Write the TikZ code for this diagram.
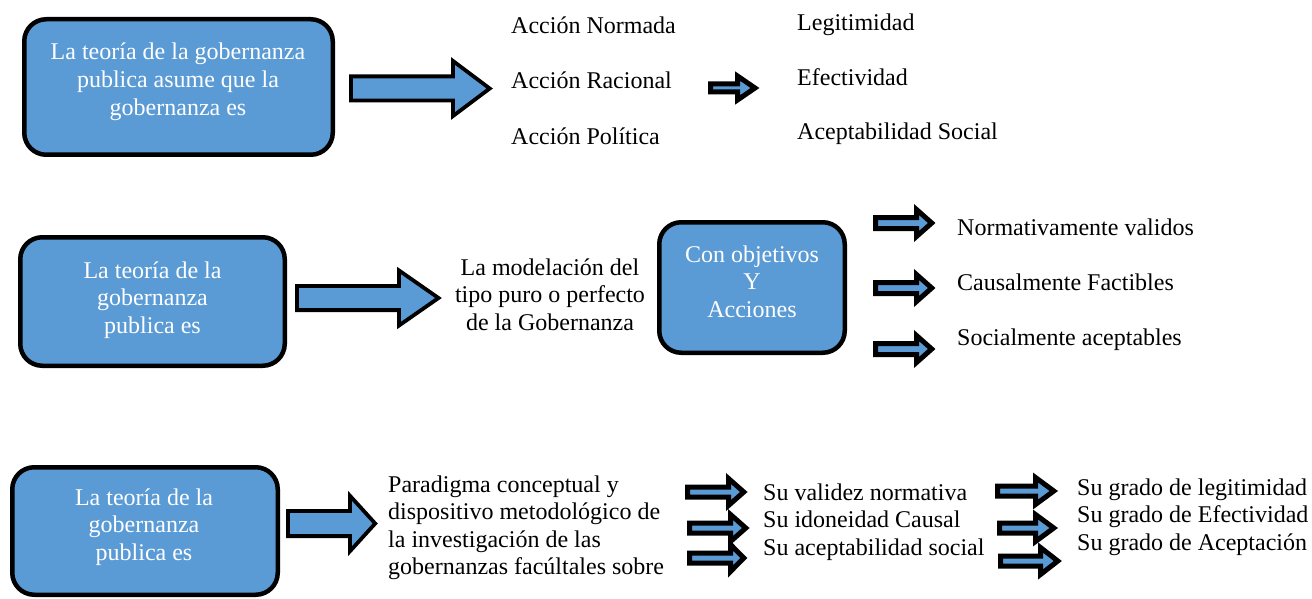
\documentclass[tikz,border=0pt]{standalone}
\usepackage{fontspec}
\setmainfont{Liberation Serif}
\definecolor{boxblue}{HTML}{5B9BD5}
\newcommand{\blockarr}[7]{%
  \draw[#1] (#2,#5-#6) -- (#3,#5-#6) -- (#3,#5-#7) -- (#4,#5) -- (#3,#5+#7) -- (#3,#5+#6) -- (#2,#5+#6) -- cycle;}
\begin{document}
\begin{tikzpicture}[x=1pt,y=-1pt,
  bluebox/.style={draw=black, line width=4.5pt, fill=boxblue, rounded corners=22pt, inner sep=0pt},
  boxtext/.style={text=white, font=\fontsize{24}{27.6}\selectfont, align=center, inner sep=0pt, anchor=base},
  plaintext/.style={text=black, font=\fontsize{24}{27.6}\selectfont, inner sep=0pt, anchor=base west},
  centertext/.style={text=black, font=\fontsize{24}{27.6}\selectfont, align=center, inner sep=0pt, anchor=base},
  lefttext/.style={text=black, font=\fontsize{24}{27.6}\selectfont, align=left, inner sep=0pt, anchor=base west},
  bigarrow/.style={draw=black, line width=3.8pt, fill=boxblue, line join=miter, miter limit=10},
  smallarrow/.style={draw=black, line width=5pt, fill=boxblue, line join=miter, miter limit=10}]
\useasboundingbox (0,0) rectangle (1312,599);

% ---------- Row 1 ----------
\node[bluebox, minimum width=308.5pt, minimum height=135.5pt] (b1) at (178.5,87) {};
\node[boxtext] (b1t) at (178,115.2) {La teoría de la gobernanza\\publica asume que la\\gobernanza es};
\blockarr{bigarrow}{350.9}{452.9}{489.7}{88.5}{12.1}{27.6}
\node[plaintext] (a1) at (511,34) {Acción Normada};
\node[plaintext] (a2) at (511,89) {Acción Racional};
\node[plaintext] (a3) at (511,145) {Acción Política};
\blockarr{smallarrow}{710.5}{737.5}{755}{88}{4}{12}
\node[plaintext] (r1) at (797,31) {Legitimidad};
\node[plaintext] (r2) at (797,86) {Efectividad};
\node[plaintext] (r3) at (797,140) {Aceptabilidad Social};

% ---------- Row 2 ----------
\node[bluebox, minimum width=264.5pt, minimum height=128.5pt] (b2) at (152.5,301.5) {};
\node[boxtext] (b2t) at (152.5,333.2) {La teoría de la\\gobernanza\\publica es};
\blockarr{bigarrow}{296.9}{398.9}{438.5}{298}{12.1}{27.6}
\node[centertext] (m1) at (550,330.2) {La modelación del\\tipo puro o perfecto\\de la Gobernanza};
\node[bluebox, minimum width=185.5pt, minimum height=130.5pt] (b3) at (752,287.5) {};
\node[boxtext] (b3t) at (752,317.2) {Con objetivos\\Y\\Acciones};
\blockarr{smallarrow}{875.5}{916.5}{931.7}{223}{5.5}{13.5}
\blockarr{smallarrow}{875.5}{916.5}{931.7}{288}{5.5}{13.5}
\blockarr{smallarrow}{875.5}{916.5}{931.7}{349}{5.5}{13.5}
\node[plaintext] (n1) at (957,235) {Normativamente validos};
\node[plaintext] (n2) at (957,290) {Causalmente Factibles};
\node[plaintext] (n3) at (957,345) {Socialmente aceptables};

% ---------- Row 3 ----------
\node[bluebox, minimum width=265.5pt, minimum height=127.5pt] (b4) at (145,531) {};
\node[boxtext] (b4t) at (144,560.2) {La teoría de la\\gobernanza\\publica es};
\blockarr{bigarrow}{287.9}{349.9}{375.2}{523.5}{12.6}{27.8}
\node[lefttext] (p1) at (388,574.8) {Paradigma conceptual y\\dispositivo metodológico de\\la investigación de las\\gobernanzas facúltales sobre};
\blockarr{smallarrow}{687.5}{728.5}{743.8}{492}{5}{13.5}
\blockarr{smallarrow}{689.5}{730.5}{745.8}{528}{5}{13.5}
\blockarr{smallarrow}{689.5}{730.5}{743.8}{558}{5}{13.5}
\node[lefttext] (s1) at (763,555.2) {Su validez normativa\\Su idoneidad Causal\\Su aceptabilidad social};
\blockarr{smallarrow}{997.5}{1035.5}{1053.8}{491}{5}{13.5}
\blockarr{smallarrow}{999.5}{1035.5}{1053.8}{528}{5}{13.5}
\blockarr{smallarrow}{1000.5}{1040.5}{1057.8}{561}{5}{13.5}
\node[lefttext] (g1) at (1077,550.2) {Su grado de legitimidad\\Su grado de Efectividad\\Su grado de Aceptación};
\end{tikzpicture}
\end{document}
